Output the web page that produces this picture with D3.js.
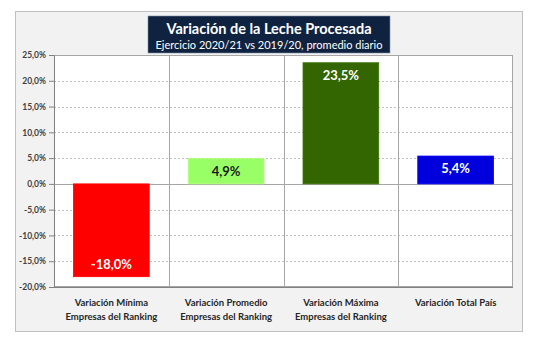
<!DOCTYPE html>
<html><head><meta charset="utf-8">
<script src="https://cdn.jsdelivr.net/npm/d3@7"></script>
<style>body{margin:0;background:#fff;} svg{display:block;font-family:Lato,"Open Sans",sans-serif;}</style>
</head><body>
<svg id="c" width="540" height="338"></svg>
<script>
const categories = [["Variación Mínima","Empresas del Ranking"],["Variación Promedio","Empresas del Ranking"],["Variación Máxima","Empresas del Ranking"],["Variación Total País"]];
const values = [-18.0, 4.9, 23.5, 5.4];
const barColors = ["#ff0000","#99ff66","#336600","#0000dd"];
const labelColors = ["#ffffff","#1a1a1a","#ffffff","#ffffff"];
const yTicks = [-20,-15,-10,-5,0,5,10,15,20,25];
const title = "Variación de la Leche Procesada";
const subtitle = "Ejercicio 2020/21 vs 2019/20, promedio diario";

const svg = d3.select("#c");
const fmt = v => (v<0?"-":"") + d3.format(".1f")(Math.abs(v)).replace(".", ",") + "%";

svg.append("rect").attr("x",15.5).attr("y",11.5).attr("width",507).attr("height",320)
  .attr("fill","#f2f2f2").attr("stroke","#bfbfbf");

const L=54, R=513, T=55, B=287;
svg.append("rect").attr("x",L).attr("y",T).attr("width",R-L).attr("height",B-T).attr("fill","#fff");

const x = d3.scaleBand().domain(d3.range(categories.length)).range([L,R]).paddingInner(0).paddingOuter(0);
const y = d3.scaleLinear().domain([-20,25]).range([B,T]);

svg.append("g").selectAll("line").data(yTicks.filter(t=>t!==-20 && t!==25 && t!==0)).join("line")
  .attr("x1",L).attr("x2",R).attr("y1",d=>Math.round(y(d))+0.5).attr("y2",d=>Math.round(y(d))+0.5)
  .attr("stroke","#bfbfbf").attr("stroke-dasharray","2,2");
svg.append("g").selectAll("line").data(d3.range(1,categories.length)).join("line")
  .attr("x1",d=>Math.round(x(d))+0.5).attr("x2",d=>Math.round(x(d))+0.5).attr("y1",T).attr("y2",B)
  .attr("stroke","#a6a6a6");
svg.append("line").attr("x1",L).attr("x2",R).attr("y1",Math.round(y(0))+0.5).attr("y2",Math.round(y(0))+0.5)
  .attr("stroke","#a6a6a6");
svg.append("rect").attr("x",L+0.5).attr("y",T+0.5).attr("width",R-L-1).attr("height",B-T-1)
  .attr("fill","none").attr("stroke","#a6a6a6");

const bw = x.bandwidth()*0.66;
svg.append("g").selectAll("rect").data(values).join("rect")
  .attr("x",(d,i)=>x(i)+(x.bandwidth()-bw)/2)
  .attr("y",d=>y(Math.max(0,d)))
  .attr("width",bw)
  .attr("height",d=>Math.abs(y(d)-y(0)))
  .attr("fill",(d,i)=>barColors[i])
  .attr("stroke",(d,i)=>d3.color(barColors[i]).brighter(0.4))
  .attr("stroke-width",0.8);

svg.append("g").selectAll("text").data(values).join("text")
  .attr("x",(d,i)=>x(i)+x.bandwidth()/2)
  .attr("y",d=> d<0 ? y(d)-8 : y(d)+17)
  .attr("text-anchor","middle").attr("font-size",13).attr("font-weight","bold")
  .attr("fill",(d,i)=>labelColors[i]).text(fmt);

const yAxis = svg.append("g").attr("transform",`translate(${L},0)`)
  .call(d3.axisLeft(y).tickValues(yTicks).tickSize(5).tickPadding(3).tickFormat(fmt));
yAxis.select(".domain").attr("stroke","#808080");
yAxis.selectAll(".tick line").attr("stroke","#808080");
yAxis.selectAll("text").attr("font-size",8.5).attr("font-weight","bold").attr("fill","#404040").attr("font-family","Lato,sans-serif");

svg.append("line").attr("x1",L).attr("x2",R).attr("y1",B+0.5).attr("y2",B+0.5).attr("stroke","#808080");

const cl = svg.append("g").selectAll("text").data(categories).join("text")
  .attr("text-anchor","middle").attr("font-size",9.5).attr("font-weight","bold").attr("fill","#262626");
cl.each(function(lines,i){
  d3.select(this).selectAll("tspan").data(lines).join("tspan")
    .attr("x",x(i)+x.bandwidth()/2).attr("y",(d,j)=>306+j*13.5).text(d=>d);
});

svg.append("rect").attr("x",148).attr("y",16).attr("width",242).attr("height",37)
  .attr("fill","#0f2341").attr("stroke","#7f8fa6").attr("stroke-width",0.6);
svg.append("text").attr("x",269).attr("y",34).attr("text-anchor","middle").attr("font-size",14.5)
  .attr("font-weight","bold").attr("fill","#fff").text(title);
svg.append("text").attr("x",269).attr("y",49).attr("text-anchor","middle").attr("font-size",11)
  .attr("fill","#fff").text(subtitle);
</script>
</body></html>
